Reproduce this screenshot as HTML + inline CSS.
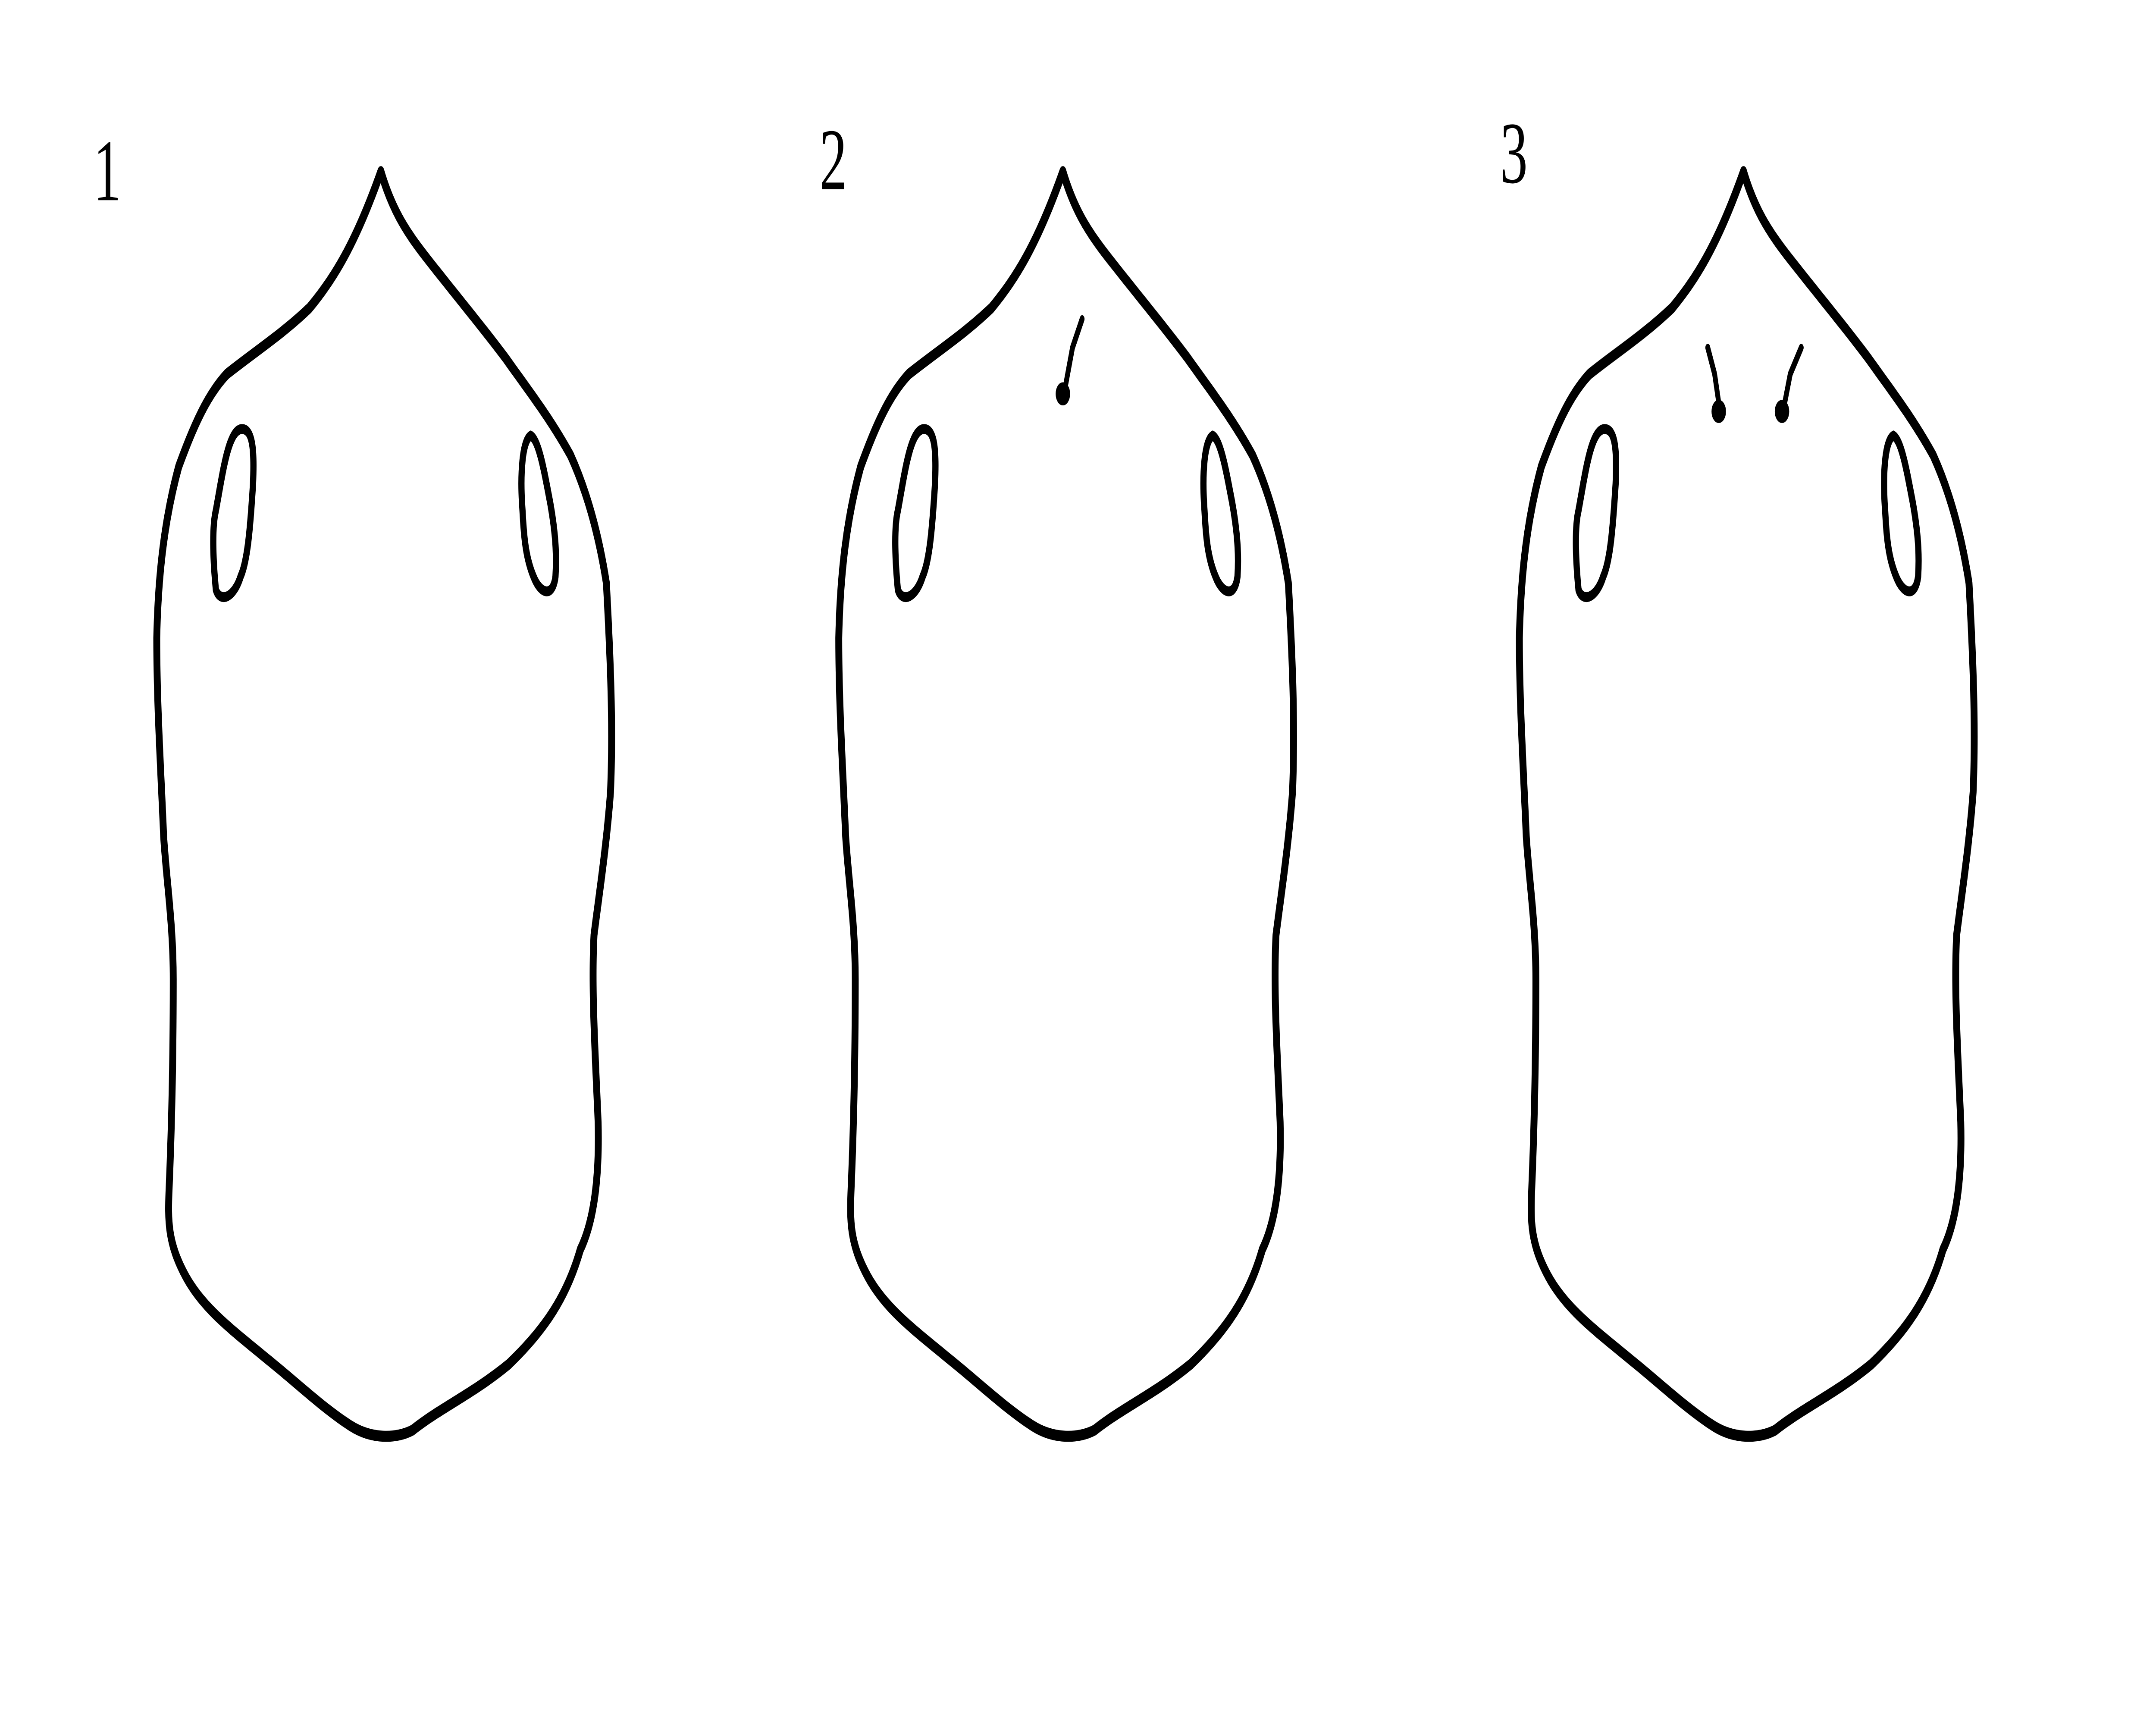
<!DOCTYPE html>
<html><head><meta charset="utf-8"><style>
html,body{margin:0;padding:0;background:#fff;width:100vw;height:100vh;overflow:hidden;}
svg{display:block;width:100vw;height:100vh;}
text{font-family:"Liberation Serif",serif;font-size:40px;fill:#000;}
</style></head><body>
<svg viewBox="0 0 1568 784" preserveAspectRatio="none" xmlns="http://www.w3.org/2000/svg">
<defs>
<g id="body">
<path d="M277,78 C285,95 295,105 310,117 C330,133 350,148 368,163 C385,178 400,190 415,207 C428,225 436,245 441,265 C444,300 446,330 444,360 C441,385 436,405 432,425 C430,450 433,480 435,510 C436,535 432,555 422,568 C412,590 395,605 370,620 C345,633 320,640 300,650 C288,654 270,654 255,648 C235,640 215,628 195,618 C170,605 148,595 135,580 C122,565 122,555 123,540 C125,510 126,480 126,445 C126,420 121,400 119,380 C117,350 114,320 114,290 C115,260 120,235 130,212 C140,195 150,180 165,170 C185,160 205,152 225,140 C245,125 260,108 277,78 Z" fill="none" stroke="#000" stroke-width="5" stroke-linejoin="round"/>
<path d="M176,195 C184,195 185,205 184,220 C182,240 180,255 175,262 C170,272 160,274 157,268 C155,255 154,240 157,232 C162,215 166,195 176,195 Z" fill="none" stroke="#000" stroke-width="4.5"/>
<path d="M386,198 C392,200 396,215 400,228 C404,242 405,252 404,262 C402,272 393,270 388,262 C382,253 381,243 380,232 C378,215 380,200 386,198 Z" fill="none" stroke="#000" stroke-width="4.5"/>
</g>
</defs>
<g><use href="#body"/></g>
<g transform="translate(496,0)"><use href="#body"/></g>
<g transform="translate(991,0)"><use href="#body"/></g>
<g stroke="#000" stroke-width="3.5" stroke-linecap="round" fill="#000">
<path d="M787,145 L780,158 L775,175" fill="none"/><circle cx="773" cy="179" r="3.5"/>
</g>
<g stroke="#000" stroke-width="3.5" stroke-linecap="round" fill="#000">
<path d="M1242,158 L1247,170 L1250,183" fill="none"/><circle cx="1250" cy="187" r="3.5"/>
<path d="M1310,158 L1302,170 L1298,183" fill="none"/><circle cx="1296" cy="187" r="3.5"/>
</g>
<text x="68" y="91">1</text>
<text x="596" y="86">2</text>
<text x="1091" y="83">3</text>
</svg>
</body></html>
